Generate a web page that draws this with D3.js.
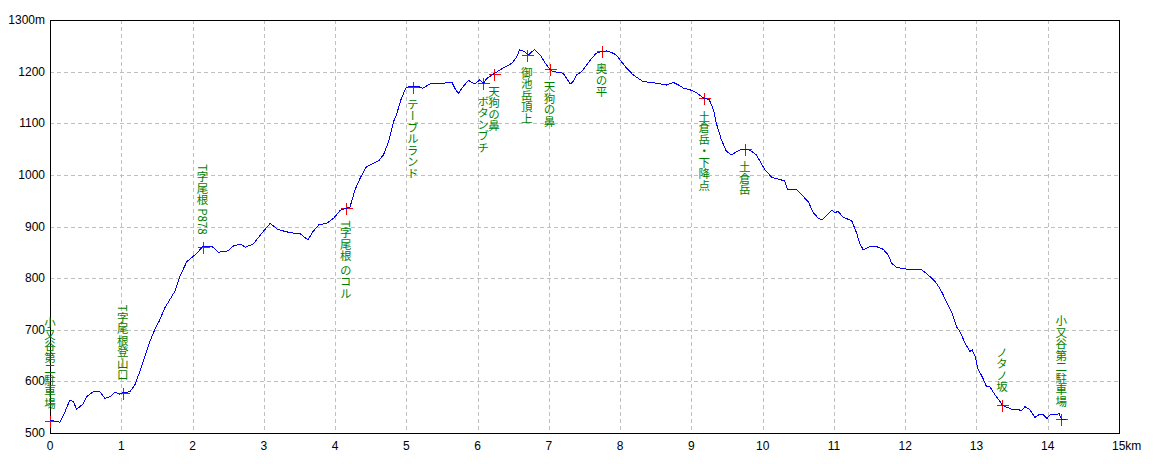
<!DOCTYPE html>
<html><head><meta charset="utf-8">
<script src="https://cdn.jsdelivr.net/npm/d3@7"></script>
<style>
html,body{margin:0;padding:0;background:#fff;}
svg{display:block;}
.tick-label{font-family:"Liberation Sans","DejaVu Sans",sans-serif;font-size:12px;fill:#000;}
.wp-label{font-family:"Noto Sans CJK JP",sans-serif;font-size:11.5px;fill:#008000;writing-mode:vertical-rl;}
</style></head>
<body>
<svg id="chart" width="1160" height="464"></svg>
<script>
// ---- data ----
const distanceKm = [0.00,0.07,0.14,0.21,0.28,0.33,0.37,0.42,0.47,0.51,0.61,0.70,0.77,0.84,0.91,0.98,1.02,1.12,1.19,1.26,1.33,1.40,1.47,1.54,1.61,1.68,1.75,1.82,1.92,2.01,2.08,2.14,2.27,2.36,2.50,2.57,2.67,2.74,2.85,2.99,3.09,3.20,3.37,3.51,3.62,3.69,3.77,3.88,3.98,4.07,4.15,4.21,4.28,4.35,4.44,4.61,4.68,4.75,4.82,4.86,4.93,5.00,5.09,5.17,5.23,5.33,5.45,5.64,5.68,5.73,5.78,5.87,5.96,6.03,6.08,6.13,6.23,6.36,6.48,6.55,6.59,6.66,6.71,6.80,6.88,6.95,7.01,7.06,7.20,7.30,7.34,7.39,7.46,7.53,7.60,7.67,7.74,7.81,7.88,7.95,8.02,8.09,8.18,8.32,8.49,8.65,8.75,8.82,8.89,8.98,9.07,9.18,9.25,9.31,9.35,9.42,9.49,9.56,9.68,9.75,9.82,9.91,10.03,10.13,10.22,10.31,10.35,10.48,10.57,10.64,10.71,10.78,10.84,10.90,10.97,11.01,11.06,11.13,11.25,11.32,11.36,11.41,11.50,11.58,11.69,11.76,11.81,11.88,11.97,12.23,12.30,12.37,12.44,12.51,12.58,12.65,12.72,12.77,12.84,12.91,12.94,12.98,13.02,13.09,13.14,13.19,13.26,13.33,13.36,13.42,13.52,13.58,13.63,13.68,13.75,13.82,13.87,13.94,13.99,14.03,14.12,14.16,14.19,14.26];
const elevationM = [525,523,521,541,564,561,546,551,557,570,580,580,567,570,579,575,578,580,593,619,648,677,700,719,742,758,774,803,832,842,851,861,862,850,853,862,866,860,866,890,906,894,888,886,874,890,903,906,916,931,935,938,971,993,1016,1027,1039,1064,1103,1116,1148,1170,1171,1171,1168,1176,1177,1179,1168,1158,1168,1183,1176,1184,1177,1187,1196,1207,1216,1229,1242,1239,1232,1243,1232,1216,1205,1200,1197,1176,1181,1194,1200,1213,1226,1236,1239,1240,1237,1232,1219,1207,1194,1181,1178,1174,1179,1174,1168,1165,1159,1148,1146,1126,1100,1068,1046,1039,1048,1050,1048,1039,1010,995,992,988,972,971,958,948,927,916,913,922,932,927,929,918,911,887,868,855,861,862,856,845,829,821,818,816,809,800,790,774,754,735,706,696,674,658,661,649,625,606,590,589,574,561,554,550,545,546,543,551,545,530,535,535,528,535,535,538,527,527];

const waypointNames = ["小又谷第二駐車場","T字尾根登山口","T字尾根 P878","T字尾根 のコル","テーブルランド","ボタンブチ","天狗の鼻","御池岳頂上","天狗の鼻","奥の平","土倉岳・下降点","土倉岳","ノタノ坂","小又谷第二駐車場"];
const waypointKm = [0.00,1.02,2.14,4.15,5.09,6.08,6.23,6.69,7.01,7.74,9.18,9.75,13.36,14.19];
const waypointElev = [523,578,861,935,1171,1177,1196,1233,1205,1240,1148,1050,555,527];
const waypointSide = ["above","above","above","below","below","below","below","below","below","below","below","below","above","above"];

const xTicks = [0,1,2,3,4,5,6,7,8,9,10,11,12,13,14,15];
const xTickLabels = ["0","1","2","3","4","5","6","7","8","9","10","11","12","13","14","15km"];
const yTicks = [500,600,700,800,900,1000,1100,1200,1300];
const yTickLabels = ["500","600","700","800","900","1000","1100","1200","1300m"];

// ---- layout ----
const mLeft = 50, mRight = 1119, mTop = 20, mBottom = 433;
const svg = d3.select("#chart");
const x = d3.scaleLinear().domain([0,15]).range([mLeft,mRight]);
const y = d3.scaleLinear().domain([500,1300]).range([mBottom,mTop]);

// grid
const grid = svg.append("g").attr("stroke","#c0c0c0").attr("stroke-dasharray","4,3").attr("shape-rendering","crispEdges");
xTicks.slice(1,-1).forEach(t=>{
  grid.append("line").attr("x1",Math.round(x(t))+0.5).attr("x2",Math.round(x(t))+0.5).attr("y1",mTop).attr("y2",mBottom);
});
yTicks.slice(1,-1).forEach(t=>{
  grid.append("line").attr("y1",Math.round(y(t))+0.5).attr("y2",Math.round(y(t))+0.5).attr("x1",mLeft).attr("x2",mRight);
});

// frame
svg.append("rect").attr("x",mLeft+0.5).attr("y",mTop+0.5).attr("width",mRight-mLeft).attr("height",mBottom-mTop)
  .attr("fill","none").attr("stroke","#000").attr("stroke-width",1).attr("shape-rendering","crispEdges");

// tick labels
svg.append("g").selectAll("text").data(xTicks).join("text").attr("class","tick-label")
  .attr("x",(d,i)=> i===xTicks.length-1 ? x(d)-7 : x(d)).attr("y",mBottom+17)
  .attr("text-anchor",(d,i)=> i===xTicks.length-1 ? "start":"middle")
  .text((d,i)=>xTickLabels[i]);
svg.append("g").selectAll("text").data(yTicks).join("text").attr("class","tick-label")
  .attr("x",45).attr("y",d=>y(d)+4)
  .attr("text-anchor","end")
  .text((d,i)=>yTickLabels[i]);

// waypoint crosses
const wp = waypointNames.map((n,i)=>({name:n,km:waypointKm[i],elev:waypointElev[i],side:waypointSide[i]}));
const crosses = svg.append("g").attr("stroke","#ff0000").attr("stroke-width",1).attr("shape-rendering","crispEdges");
wp.forEach(d=>{
  const cx = Math.round(x(d.km))+0.5, cy = Math.round(y(d.elev))+0.5;
  crosses.append("line").attr("x1",cx-6).attr("x2",cx+6).attr("y1",cy).attr("y2",cy);
  crosses.append("line").attr("x1",cx).attr("x2",cx).attr("y1",cy-6).attr("y2",cy+6);
});

// profile line
const data = distanceKm.map((k,i)=>[k,elevationM[i]]);
svg.append("path").datum(data)
  .attr("d",d3.line().x(d=>x(d[0])).y(d=>y(d[1])))
  .attr("fill","none").attr("stroke","#0000ff").attr("stroke-width",1).attr("shape-rendering","crispEdges");

// waypoint labels
svg.append("g").selectAll("text").data(wp).join("text").attr("class","wp-label")
  .attr("x",d=>x(d.km))
  .attr("y",d=> d.side==="above" ? y(d.elev)-12 : y(d.elev)+12)
  .attr("text-anchor",d=> d.side==="above" ? "end":"start")
  .text(d=>d.name);
</script>
</body></html>
